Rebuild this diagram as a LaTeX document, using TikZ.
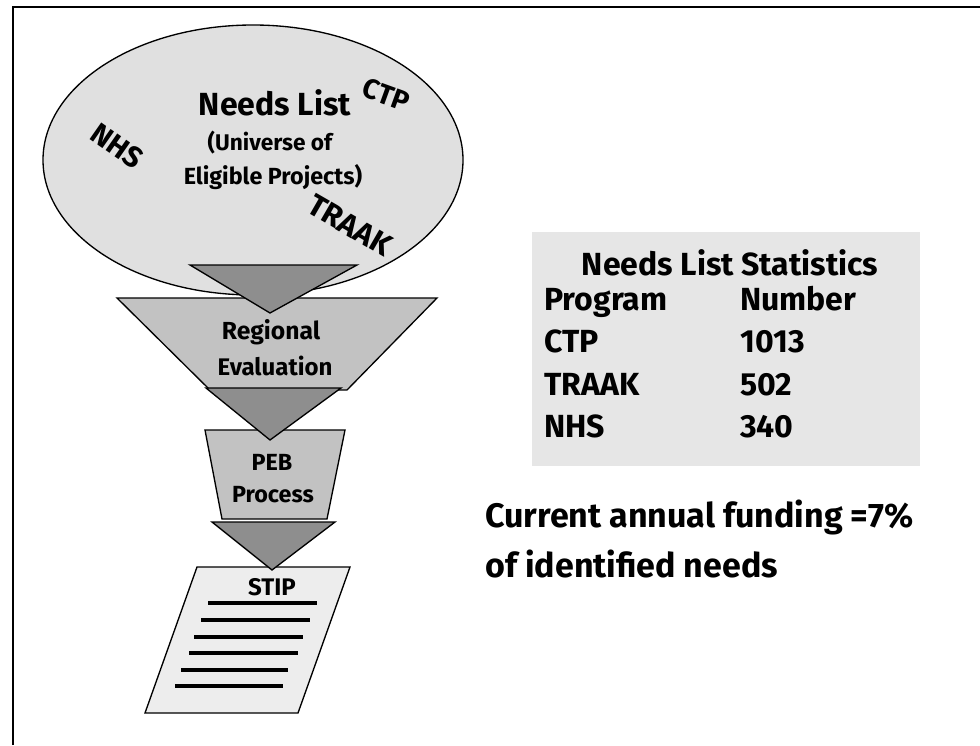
\documentclass[tikz,border=0pt]{standalone}
\usepackage{fontspec}
\setmainfont{Fira Sans}
\usetikzlibrary{shapes.geometric}
\definecolor{elfill}{HTML}{E0E0E0}
\definecolor{midfill}{HTML}{C2C2C2}
\definecolor{darkfill}{HTML}{8E8E8E}
\definecolor{paperfill}{HTML}{EDEDED}
\definecolor{boxfill}{HTML}{E6E6E6}
\tikzset{
  shapeline/.style={draw=black, line width=1pt},
  txt/.style={inner sep=0pt, font=\bfseries, align=center},
  stat/.style={txt, anchor=base west, font=\bfseries\fs{24}},
  bar/.style={line width=3pt, black},
}
\newcommand{\fs}[1]{\fontsize{#1}{#1}\selectfont}
\begin{document}
\begin{tikzpicture}[x=0.75pt, y=-0.75pt]
\useasboundingbox (0,0) rectangle (980,745);
\fill[white] (0,0) rectangle (980,745);
% frame
\draw[line width=2pt] (13,745) -- (13,7) -- (980,7);
% ellipse
\draw[shapeline, fill=elfill] (253,160) ellipse [x radius=210, y radius=135];
% big trapezoid
\draw[shapeline, fill=midfill] (117,298) -- (437,298) -- (347,390) -- (210,390) -- cycle;
% PEB trapezoid
\draw[shapeline, fill=midfill] (205,430) -- (345,430) -- (327,519) -- (222,519) -- cycle;
% STIP paper
\draw[shapeline, fill=paperfill] (197,567) -- (350,567) -- (298,713) -- (145,713) -- cycle;
% dark triangles
\draw[shapeline, fill=darkfill] (190,265) -- (357,265) -- (270,313) -- cycle;
\draw[shapeline, fill=darkfill] (206,388) -- (341,388) -- (270,440) -- cycle;
\draw[shapeline, fill=darkfill] (212,522) -- (335,522) -- (272,570) -- cycle;
% document bars
\draw[bar] (208,603) -- (317,603);
\draw[bar] (201,620) -- (310,620);
\draw[bar] (194,637) -- (303,637);
\draw[bar] (189,653) -- (298,653);
\draw[bar] (181,670) -- (288,670);
\draw[bar] (175,686) -- (283,686);
% ellipse texts
\node[txt, font=\bfseries\fs{24}] (needs) at (275,103) {Needs List};
\node[txt, font=\bfseries\fs{17}] (univ) at (270,143) {(Universe of};
\node[txt, font=\bfseries\fs{17.5}] (elig) at (273,177) {Eligible Projects)};
\node[txt, font=\bfseries\fs{21}, rotate=-20] (ctp) at (386,95) {CTP};
\node[txt, font=\bfseries\fs{22}, rotate=-35] (nhs) at (117,146) {NHS};
\node[txt, font=\bfseries\fs{23}, rotate=-30] (traak) at (350,225) {TRAAK};
% funnel texts
\node[txt, font=\bfseries\fs{18.5}] (reg) at (271,332) {Regional};
\node[txt, font=\bfseries\fs{18}] (eval) at (275,366) {Evaluation};
\node[txt, font=\bfseries\fs{17.5}] (peb) at (272,462) {PEB};
\node[txt, font=\bfseries\fs{17.5}] (proc) at (273,495) {Process};
\node[txt, font=\bfseries\fs{18}] (stip) at (272,587) {STIP};
% statistics box
\fill[boxfill] (532,232) rectangle (920,466);
\node[txt, anchor=base, font=\bfseries\fs{24}] (stt) at (730,275) {Needs List Statistics};
\node[stat] (prog) at (544,310) {Program};
\node[stat] (num) at (740,310) {Number};
\node[stat] (c1) at (544,352) {CTP};
\node[stat] (n1) at (740,352) {1013};
\node[stat] (c2) at (544,395) {TRAAK};
\node[stat] (n2) at (740,395) {502};
\node[stat] (c3) at (544,437) {NHS};
\node[stat] (n3) at (740,437) {340};
% funding text
\node[txt, anchor=base west, font=\bfseries\fs{25.5}] (f1) at (485,527) {Current annual funding =7\%};
\node[txt, anchor=base west, font=\bfseries\fs{25.5}] (f2) at (485,577) {of identified needs};
\end{tikzpicture}
\end{document}
